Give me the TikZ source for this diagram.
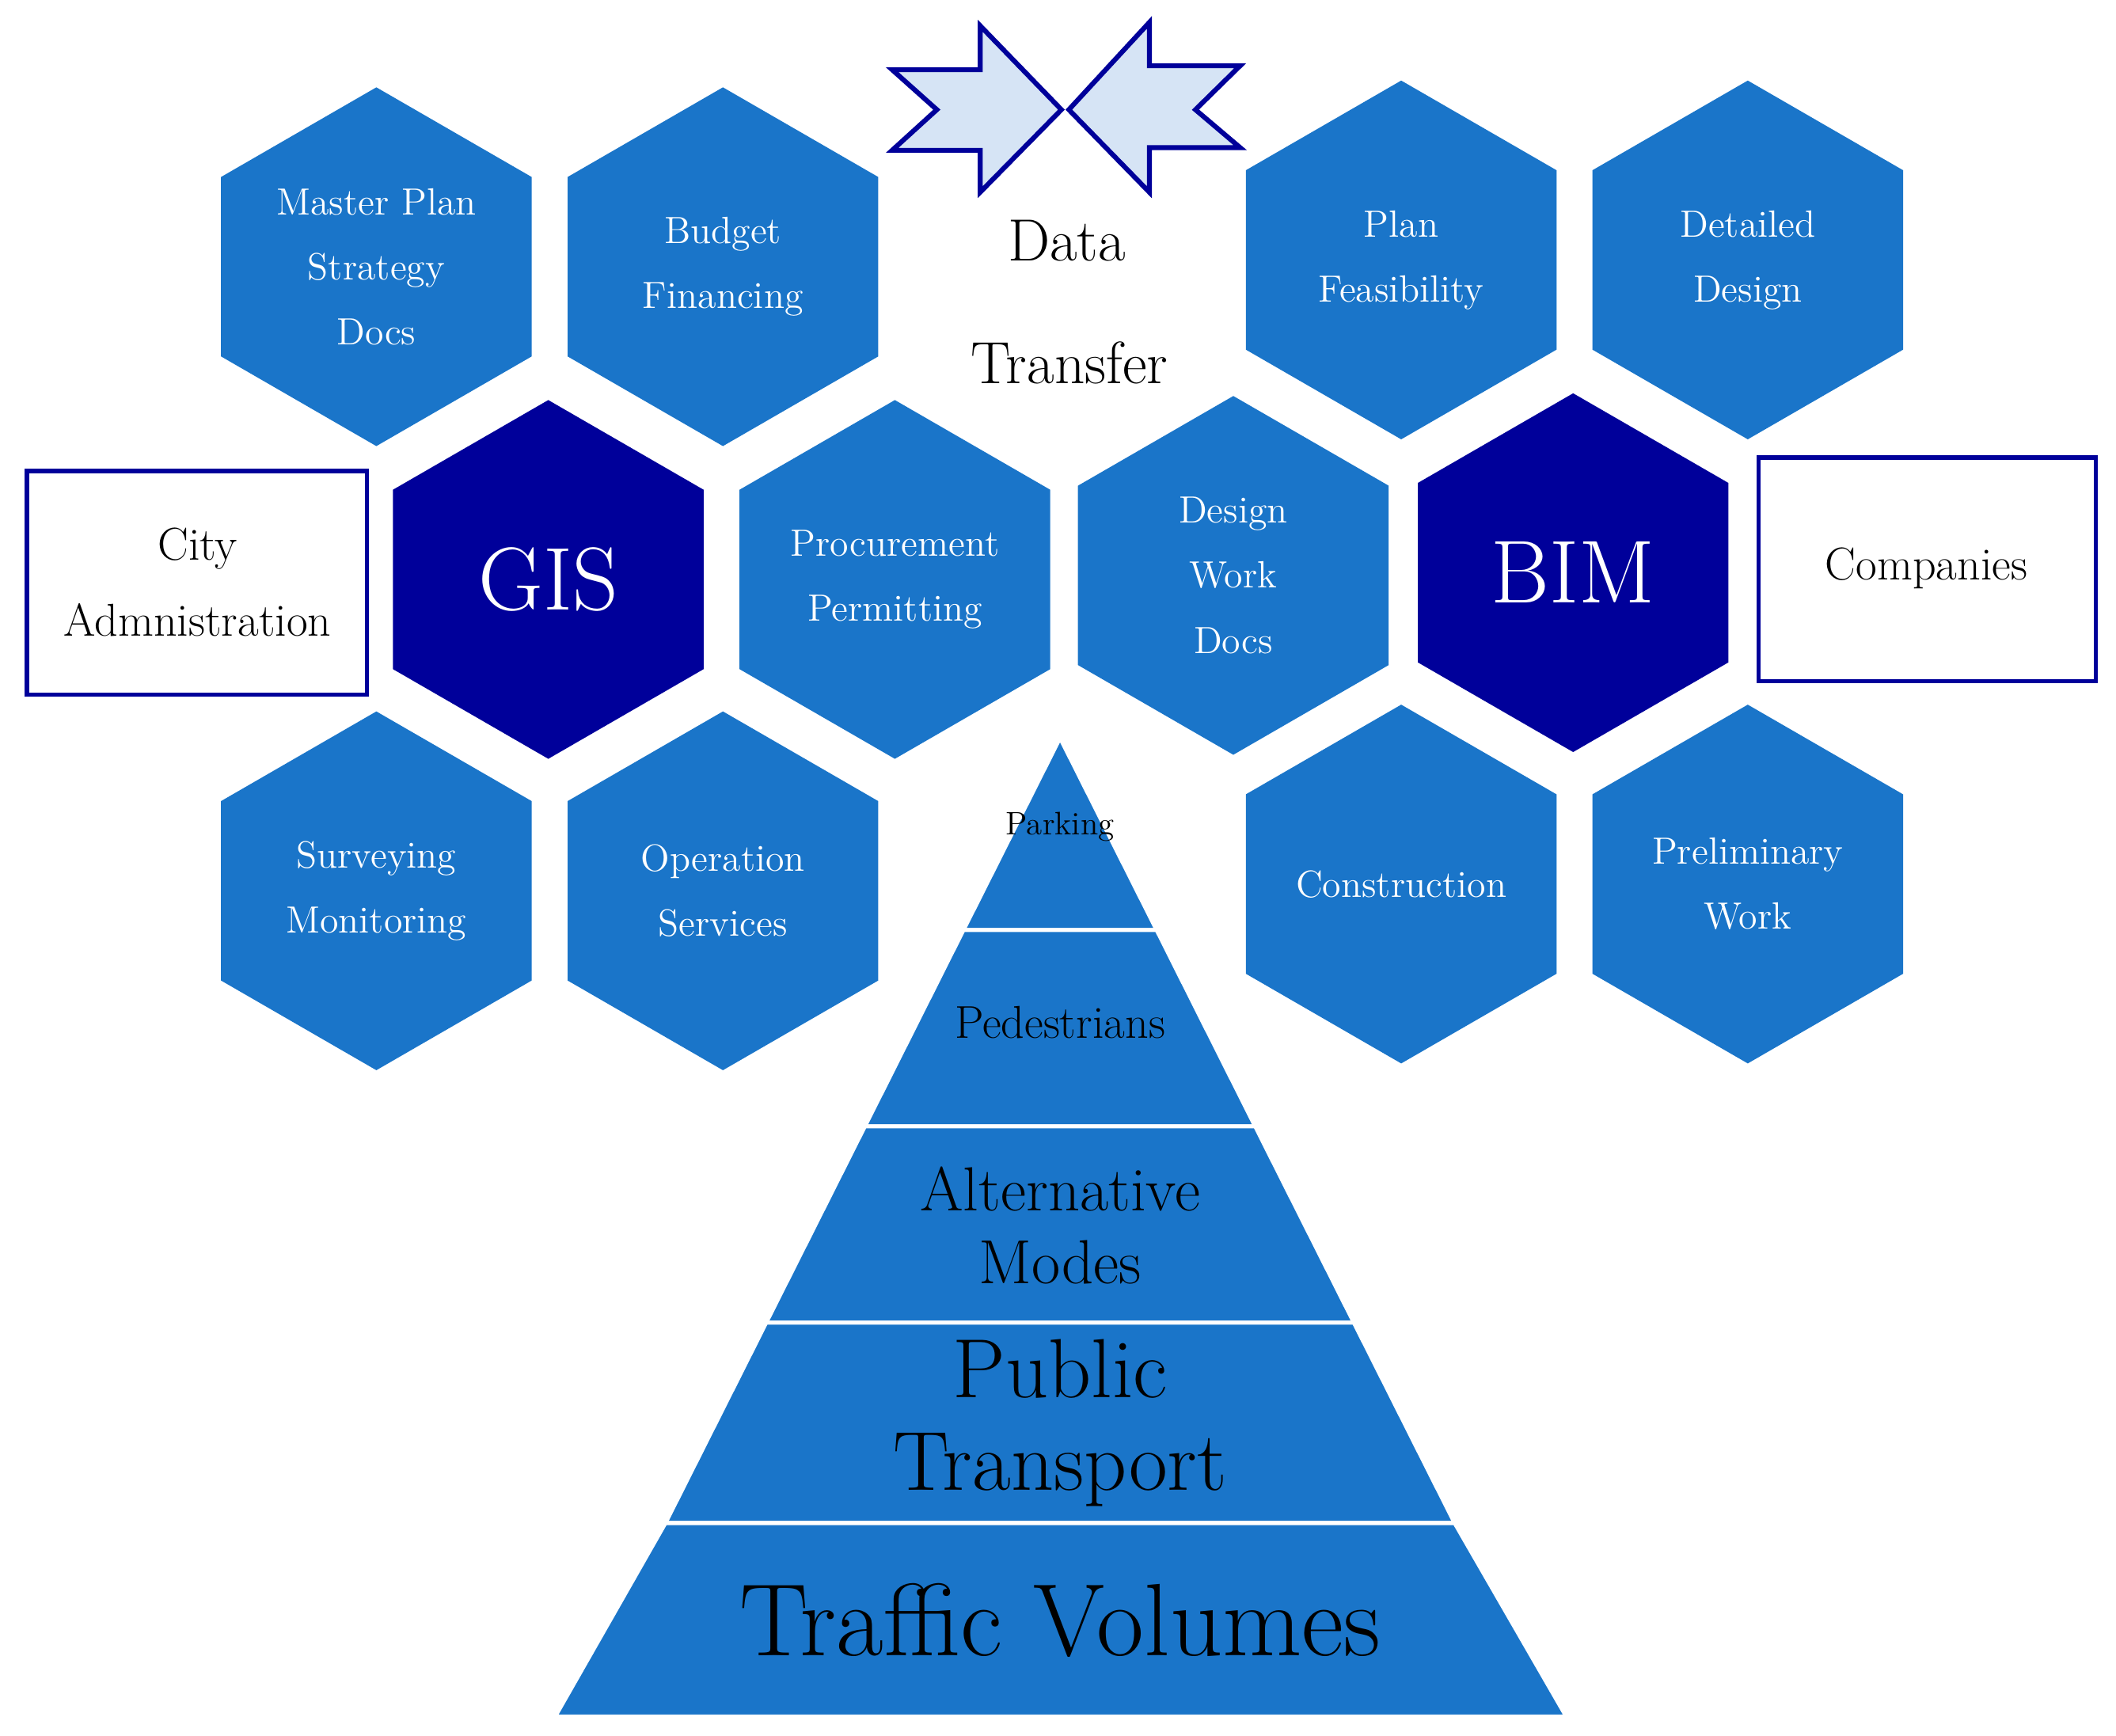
\documentclass[tikz,border=0pt]{standalone}
\usetikzlibrary{shapes.geometric}
\definecolor{hexblue}{HTML}{1A75C9}
\definecolor{dark}{HTML}{00009A}
\definecolor{light}{HTML}{D6E4F5}
\begin{document}
\begin{tikzpicture}[x=0.5pt,y=-0.5pt,
 hex/.style={regular polygon,regular polygon sides=6,shape border rotate=30,minimum size=132.5pt,inner sep=0pt,fill=hexblue,text=white,align=center,font=\fontsize{14}{24}\selectfont},
 dhex/.style={hex,fill=dark,font=\fontsize{33}{36}\selectfont},
 box/.style={draw=dark,line width=1.6pt,fill=white,align=center,font=\fontsize{17}{28}\selectfont},
 band/.style={fill=hexblue,draw=white,line width=1.5pt},
 plab/.style={align=center,text=black},
 arr/.style={fill=light,draw=dark,line width=1.8pt,line join=miter}]
\useasboundingbox (0,0) rectangle (1563,1282);
% hexagons
\node[hex] (mp) at (278,197) {Master Plan\\Strategy\\Docs};
\node[hex] (bf) at (534,197) {Budget\\Financing};
\node[hex] (pf) at (1035,192) {Plan\\Feasibility};
\node[hex] (dd) at (1291,192) {Detailed\\Design};
\node[dhex] (gis) at (405,428) {GIS};
\node[hex] (pp) at (661,428) {Procurement\\Permitting};
\node[hex] (dw) at (911,425) {Design\\Work\\Docs};
\node[dhex] (bim) at (1162,423) {BIM};
\node[hex] (sm) at (278,658) {Surveying\\Monitoring};
\node[hex] (os) at (534,658) {Operation\\Services};
\node[hex] (co) at (1035,653) {Construction};
\node[hex] (pw) at (1291,653) {Preliminary\\Work};
% boxes
\draw[box] (20,348) rectangle (271,513);
\node[font=\fontsize{17}{28}\selectfont,align=center] (ca) at (146,430) {City\\Admnistration};
\draw[box] (1299,338) rectangle (1548,503);
\node[font=\fontsize{17}{28}\selectfont] (cp) at (1423,420) {Companies};
% arrows
\draw[arr] (659,51.5) -- (724,51.5) -- (724,19) -- (784,81) -- (724,142) -- (724,111) -- (659,111) -- (692,81) -- cycle;
\draw[arr] (789.5,81) -- (849,16.5) -- (849,48.6) -- (916,48.6) -- (883,81) -- (916,109) -- (849,109) -- (849,142) -- cycle;
\node[font=\fontsize{22}{24}\selectfont] (dt1) at (788,178) {Data};
\node[font=\fontsize{22}{24}\selectfont] (dt2) at (790,268) {Transfer};
% pyramid
\coordinate (apex) at (783,545);
\draw[band] (783,545) -- (711.6,687) -- (854.4,687) -- cycle;
\draw[band] (711.6,687) -- (638.8,832) -- (927.2,832) -- (854.4,687) -- cycle;
\draw[band] (638.8,832) -- (565.9,977) -- (1000.1,977) -- (927.2,832) -- cycle;
\draw[band] (565.9,977) -- (491.5,1125) -- (1074.5,1125) -- (1000.1,977) -- cycle;
\draw[band] (491.5,1125) -- (410,1268) -- (1157,1268) -- (1074.5,1125) -- cycle;
\node[plab,font=\fontsize{12}{14}\selectfont] (pk) at (783,611) {Parking};
\node[plab,font=\fontsize{17}{20}\selectfont] (pe) at (783,755) {Pedestrians};
\node[plab,font=\fontsize{23}{27}\selectfont] (am) at (783,905) {Alternative\\Modes};
\node[plab,font=\fontsize{31}{34}\selectfont] (pt) at (783,1051) {Public\\Transport};
\node[plab,font=\fontsize{38}{40}\selectfont] (tv) at (783,1197) {Traffic Volumes};
\end{tikzpicture}
\end{document}
